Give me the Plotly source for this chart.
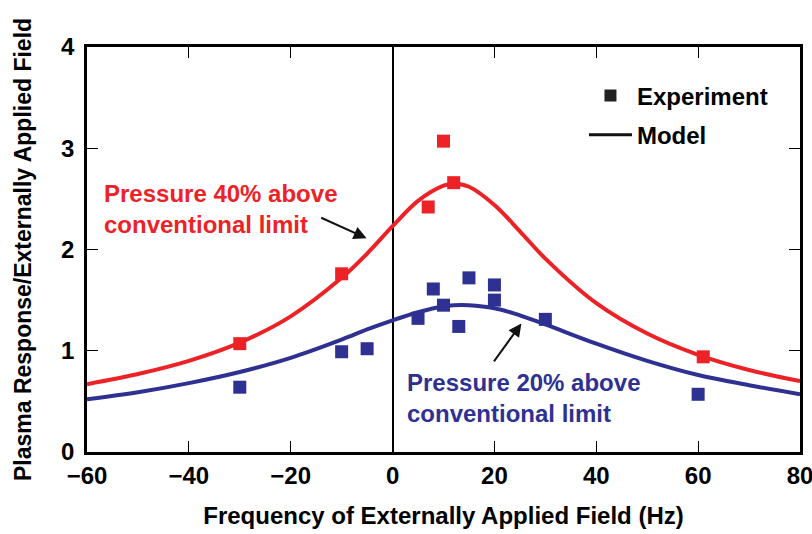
import plotly.graph_objects as go

red_exp_x = [-30, -10, 7, 10, 12, 61]
red_exp_y = [1.07, 1.76, 2.42, 3.07, 2.66, 0.94]
blue_exp_x = [-30, -10, -5, 5, 8, 10, 13, 15, 20, 20, 30, 60]
blue_exp_y = [0.64, 0.99, 1.02, 1.32, 1.61, 1.45, 1.24, 1.72, 1.65, 1.50, 1.31, 0.57]

# Model curves
model_x = [-60, -50, -40, -30, -20, -10, -5, 0, 5, 10, 12, 15, 20, 25, 30, 40, 50, 60, 70, 80]
red_model_y = [0.67, 0.77, 0.90, 1.08, 1.34, 1.72, 1.96, 2.23, 2.48, 2.63, 2.65, 2.62, 2.44, 2.18, 1.91, 1.47, 1.17, 0.96, 0.81, 0.70]
blue_model_y = [0.52, 0.59, 0.68, 0.79, 0.93, 1.11, 1.21, 1.30, 1.38, 1.44, 1.45, 1.45, 1.42, 1.35, 1.26, 1.07, 0.90, 0.76, 0.66, 0.57]

x_ticks = [-60, -40, -20, 0, 20, 40, 60, 80]
y_ticks = [0, 1, 2, 3, 4]

RED = "#EC2227"
BLUE = "#2E3192"
SANS = "Liberation Sans, Arial, Helvetica, sans-serif"

fig = go.Figure()

fig.add_trace(go.Scatter(x=model_x, y=red_model_y, mode="lines", line=dict(color=RED, width=4, shape="spline"),
                         showlegend=False, hoverinfo="skip"))
fig.add_trace(go.Scatter(x=model_x, y=blue_model_y, mode="lines", line=dict(color=BLUE, width=4, shape="spline"),
                         showlegend=False, hoverinfo="skip"))
fig.add_trace(go.Scatter(x=red_exp_x, y=red_exp_y, mode="markers",
                         marker=dict(symbol="square", size=13, color=RED), showlegend=False))
fig.add_trace(go.Scatter(x=blue_exp_x, y=blue_exp_y, mode="markers",
                         marker=dict(symbol="square", size=13, color=BLUE), showlegend=False))

# legend entries
fig.add_trace(go.Scatter(x=[None], y=[None], mode="markers", name="Experiment", legendgroup="a",
                         marker=dict(symbol="square", size=12, color="#222222")))
fig.add_trace(go.Scatter(x=[None], y=[None], mode="lines", name="Model", legendgroup="b",
                         line=dict(color="#111111", width=3)))

# annotations
fig.add_annotation(x=-5.1, y=2.11, ax=-14.3, ay=2.32, xref="x", yref="y", axref="x", ayref="y",
                   text="", showarrow=True, arrowhead=2, arrowsize=1.3, arrowwidth=2, arrowcolor="#111111")
fig.add_annotation(x=25.3, y=1.27, ax=19.7, ay=0.88, xref="x", yref="y", axref="x", ayref="y",
                   text="", showarrow=True, arrowhead=2, arrowsize=1.3, arrowwidth=2, arrowcolor="#111111")
fig.add_annotation(x=-57.0, y=2.40, xref="x", yref="y", xanchor="left", yanchor="middle", align="left",
                   text="Pressure 40% above<br>conventional limit", showarrow=False,
                   font=dict(family=SANS, size=24, color=RED, weight="bold"))
fig.add_annotation(x=2.4, y=0.53, xref="x", yref="y", xanchor="left", yanchor="middle", align="left",
                   text="Pressure 20% above<br>conventional limit", showarrow=False,
                   font=dict(family=SANS, size=24, color=BLUE, weight="bold"))

fig.update_layout(
    width=812, height=534,
    margin=dict(l=87, r=12, t=47, b=82, autoexpand=False),
    plot_bgcolor="white", paper_bgcolor="white",
    font=dict(family=SANS, color="#000000"),
    legend=dict(x=0.697, y=0.935, xanchor="left", yanchor="top", bgcolor="rgba(0,0,0,0)",
                font=dict(family=SANS, size=24, color="#000000", weight="bold"),
                tracegroupgap=5, itemwidth=43),
    xaxis=dict(range=[-60, 80], tickvals=x_ticks, ticks="inside", ticklen=11, tickwidth=1.2,
               tickcolor="#000", showline=True, linecolor="#000", linewidth=2.5, mirror="allticks",
               showgrid=False, zeroline=True, zerolinecolor="#000", zerolinewidth=1.5, automargin=False,
               ticklabeloverflow="allow",
               tickfont=dict(family=SANS, size=24, weight="bold"),
               title=dict(text="Frequency of Externally Applied Field (Hz)",
                          font=dict(family=SANS, size=24, weight="bold"), standoff=20)),
    yaxis=dict(range=[0, 4], tickvals=y_ticks, ticks="inside", ticklen=11, tickwidth=1.2,
               tickcolor="#000", showline=True, linecolor="#000", linewidth=2.5, mirror="allticks",
               showgrid=False, zeroline=False, ticklabelstandoff=5, automargin=False,
               ticklabeloverflow="allow",
               tickfont=dict(family=SANS, size=24, weight="bold"),
               title=dict(text="Plasma Response/Externally Applied Field",
                          font=dict(family=SANS, size=23, weight="bold"), standoff=24)),
)

# remove the default page margin so the 812x534 figure fills the window exactly
fig.write_html("out.html", config={"displayModeBar": False},
               post_script="document.body.style.margin='0';document.body.style.overflow='hidden';")
